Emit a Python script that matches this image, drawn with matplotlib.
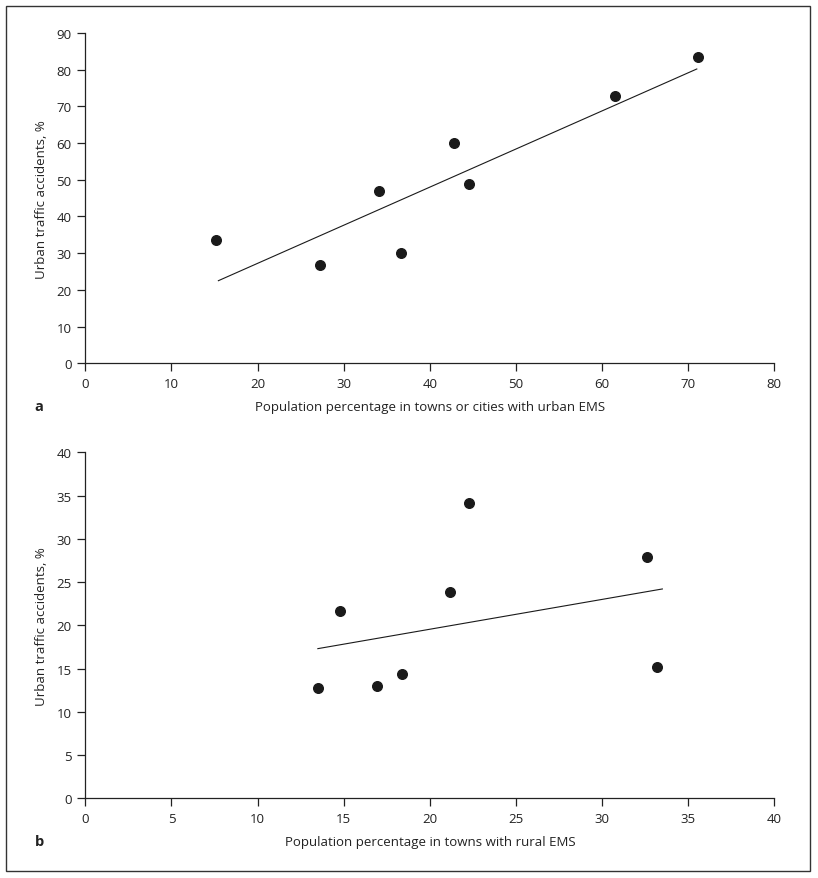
import matplotlib.pyplot as plt
from matplotlib.patches import Rectangle

plt.rcParams['font.family'] = ['Open Sans', 'DejaVu Sans']
plt.rcParams['font.size'] = 9.5

# Panel a: urban EMS
a_x = [15.2, 27.3, 34.1, 36.7, 42.8, 44.6, 61.5, 71.1]
a_y = [33.7, 26.8, 46.9, 30.0, 59.9, 48.9, 72.8, 83.5]
a_fit_x = [15.45, 71.0]
a_fit_y = [22.5, 80.2]

# Panel b: rural EMS
b_x = [13.5, 14.8, 16.95, 18.4, 21.2, 22.3, 32.6, 33.2]
b_y = [12.7, 21.6, 13.0, 14.4, 23.9, 34.1, 27.9, 15.2]
b_fit_x = [13.5, 33.5]
b_fit_y = [17.3, 24.2]

text_col = '#222222'

fig = plt.figure(figsize=(8.18, 8.79), dpi=100)
W, H = 818, 879
fig.patches.append(Rectangle((6 / W, 1 - 872 / H), 804 / W, 865 / H,
                             transform=fig.transFigure, fill=False,
                             edgecolor='#333333', linewidth=1.0))

ax_a = fig.add_axes([0.1043, 0.5856, 0.8423, 0.3757])
ax_b = fig.add_axes([0.1043, 0.0907, 0.8423, 0.3936])


def style(ax, xl, yl, xlim, ylim, xstep, ystep, ylab_y):
    for s in ['top', 'right']:
        ax.spines[s].set_visible(False)
    for s in ['left', 'bottom']:
        ax.spines[s].set_linewidth(0.9)
        ax.spines[s].set_color(text_col)
    ax.set_xlim(*xlim)
    ax.set_ylim(*ylim)
    ax.set_xticks(range(xlim[0], xlim[1] + 1, xstep))
    ax.set_yticks(range(ylim[0], ylim[1] + 1, ystep))
    ax.tick_params(direction='out', length=6, width=0.9, color=text_col,
                   labelcolor=text_col, pad=4)
    ax.set_xlabel(xl, color=text_col)
    ax.xaxis.set_label_coords(0.5, ylab_y)
    ax.xaxis.label.set_va('center')
    ax.set_ylabel(yl, color=text_col)
    ax.yaxis.set_label_coords(-0.0633, 0.5)
    ax.yaxis.label.set_va('center')


ax_a.scatter(a_x, a_y, s=48, color='#1a1a1a', zorder=3, clip_on=False)
ax_a.plot(a_fit_x, a_fit_y, color='#1a1a1a', linewidth=0.8)
style(ax_a, 'Population percentage in towns or cities with urban EMS',
      'Urban traffic accidents, %', (0, 80), (0, 90), 10, 10, -0.130)

ax_b.scatter(b_x, b_y, s=48, color='#1a1a1a', zorder=3, clip_on=False)
ax_b.plot(b_fit_x, b_fit_y, color='#1a1a1a', linewidth=0.8)
style(ax_b, 'Population percentage in towns with rural EMS',
      'Urban traffic accidents, %', (0, 40), (0, 40), 5, 5, -0.124)

fig.text(39 / W, 1 - 407 / H, 'a', fontweight='bold', fontsize=10.5,
         color=text_col, ha='center', va='center')
fig.text(39 / W, 1 - 842 / H, 'b', fontweight='bold', fontsize=10.5,
         color=text_col, ha='center', va='center')

fig.savefig('out.png', dpi=100, facecolor='white')
